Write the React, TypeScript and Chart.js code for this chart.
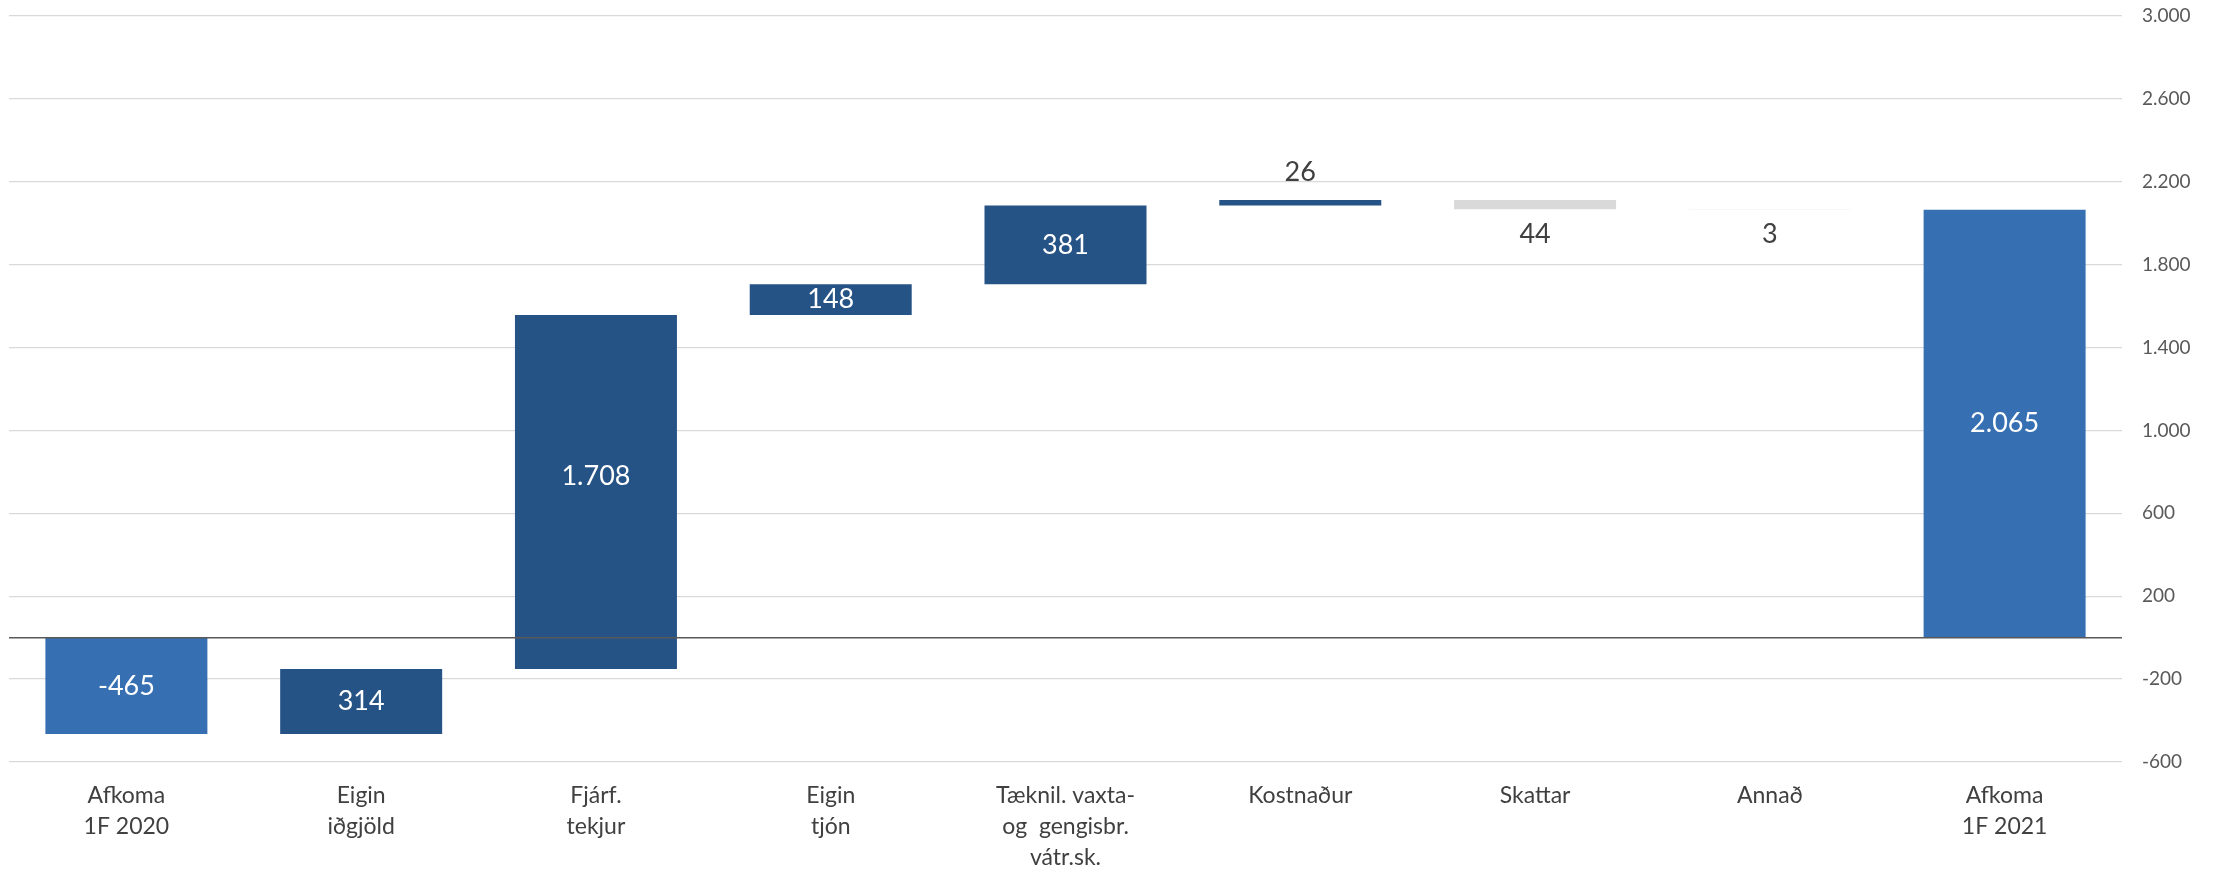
import React, { useEffect, useRef } from "react";
import { Chart, registerables } from "chart.js";

Chart.register(...registerables);

// ---- data ----
const categories: string[][] = [
  ["Afkoma", "1F 2020"],
  ["Eigin", "iðgjöld"],
  ["Fjárf.", "tekjur"],
  ["Eigin", "tjón"],
  ["Tæknil. vaxta-", "og  gengisbr.", "vátr.sk."],
  ["Kostnaður"],
  ["Skattar"],
  ["Annað"],
  ["Afkoma", "1F 2021"],
];
const values: number[] = [-465, 314, 1708, 148, 381, 26, -44, -3, 2065];
const isTotal: boolean[] = [true, false, false, false, false, false, false, false, true];
const yMin = -600;
const yMax = 3000;
const yStep = 400;

// ---- styles ----
const barColors: string[] = [
  "#3670B2",
  "#265385",
  "#265385",
  "#265385",
  "#265385",
  "#265385",
  "#D9D9D9",
  "#F2F2F2",
  "#3670B2",
];
const FONT = "Lato, 'Open Sans', sans-serif";

function fmt(n: number): string {
  const neg = n < 0;
  const s = String(Math.round(Math.abs(n)));
  const out = s.replace(/\B(?=(\d{3})+(?!\d))/g, ".");
  return (neg ? "-" : "") + out;
}

function buildRanges(): [number, number][] {
  const r: [number, number][] = [];
  let cum = 0;
  values.forEach((v, i) => {
    if (isTotal[i]) {
      r.push([0, v]);
      cum = v;
    } else {
      r.push([cum, cum + v]);
      cum += v;
    }
  });
  return r;
}

export default function App() {
  const ref = useRef<HTMLCanvasElement | null>(null);

  useEffect(() => {
    if (!ref.current) return;
    const ranges = buildRanges();

    const overlay = {
      id: "waterfallOverlay",
      afterDatasetsDraw(chart: any) {
        const ctx = chart.ctx;
        const ys = chart.scales.y;
        const area = chart.chartArea;
        const meta = chart.getDatasetMeta(0);
        ctx.save();
        // zero line
        const y0 = ys.getPixelForValue(0);
        ctx.strokeStyle = "#595959";
        ctx.lineWidth = 1.5;
        ctx.beginPath();
        ctx.moveTo(area.left, y0);
        ctx.lineTo(area.right, y0);
        ctx.stroke();
        // labels
        ctx.font = `27px ${FONT}`;
        ctx.textAlign = "center";
        ctx.textBaseline = "middle";
        meta.data.forEach((bar: any, i: number) => {
          const [a, b] = ranges[i];
          const lo = Math.min(a, b);
          const hi = Math.max(a, b);
          const v = values[i];
          const text = isTotal[i] ? fmt(v) : fmt(Math.abs(v));
          let yy: number;
          let color: string;
          if (Math.abs(v) < 100) {
            color = "#404040";
            if (v > 0) yy = ys.getPixelForValue(hi) - 28;
            else yy = ys.getPixelForValue(lo) + 25;
          } else {
            color = "#FFFFFF";
            let mid: number;
            if (lo < 0 && hi > 0) mid = hi >= -lo ? hi / 2 : lo / 2;
            else mid = (lo + hi) / 2;
            yy = ys.getPixelForValue(mid);
          }
          ctx.fillStyle = color;
          ctx.fillText(text, bar.x, yy);
        });
        ctx.restore();
      },
    };

    const chart = new Chart(ref.current, {
      type: "bar",
      data: {
        labels: categories,
        datasets: [
          {
            data: ranges as any,
            backgroundColor: barColors,
            borderWidth: 0,
            categoryPercentage: 1,
            barPercentage: 0.69,
            borderSkipped: false,
          },
        ],
      },
      options: {
        animation: false,
        responsive: true,
        maintainAspectRatio: false,
        layout: { padding: { left: 9, top: 16, right: 0, bottom: 0 } },
        plugins: {
          legend: { display: false },
          tooltip: { enabled: false },
        },
        scales: {
          x: {
            grid: { display: false, drawTicks: false },
            border: { display: false },
            ticks: {
              color: "#404040",
              font: { family: FONT, size: 23, lineHeight: 1.35 },
              padding: 18,
              maxRotation: 0,
              autoSkip: false,
            },
            afterFit(scale: any) {
              scale.height = 113;
            },
          },
          y: {
            position: "right",
            min: yMin,
            max: yMax,
            grid: { color: "#D9D9D9", lineWidth: 1.3, drawTicks: false },
            border: { display: false },
            ticks: {
              stepSize: yStep,
              color: "#595959",
              font: { family: FONT, size: 19 },
              padding: 20,
              callback: (val: any) => fmt(Number(val)),
            },
            afterFit(scale: any) {
              scale.width = 94;
              scale.paddingTop = 0;
              scale.paddingBottom = 0;
            },
          },
        },
      },
      plugins: [overlay],
    });
    return () => chart.destroy();
  }, []);

  return (
    <div style={{ position: "fixed", left: 0, top: 0, width: 2216, height: 875, background: "#fff" }}>
      <canvas ref={ref} />
    </div>
  );
}
